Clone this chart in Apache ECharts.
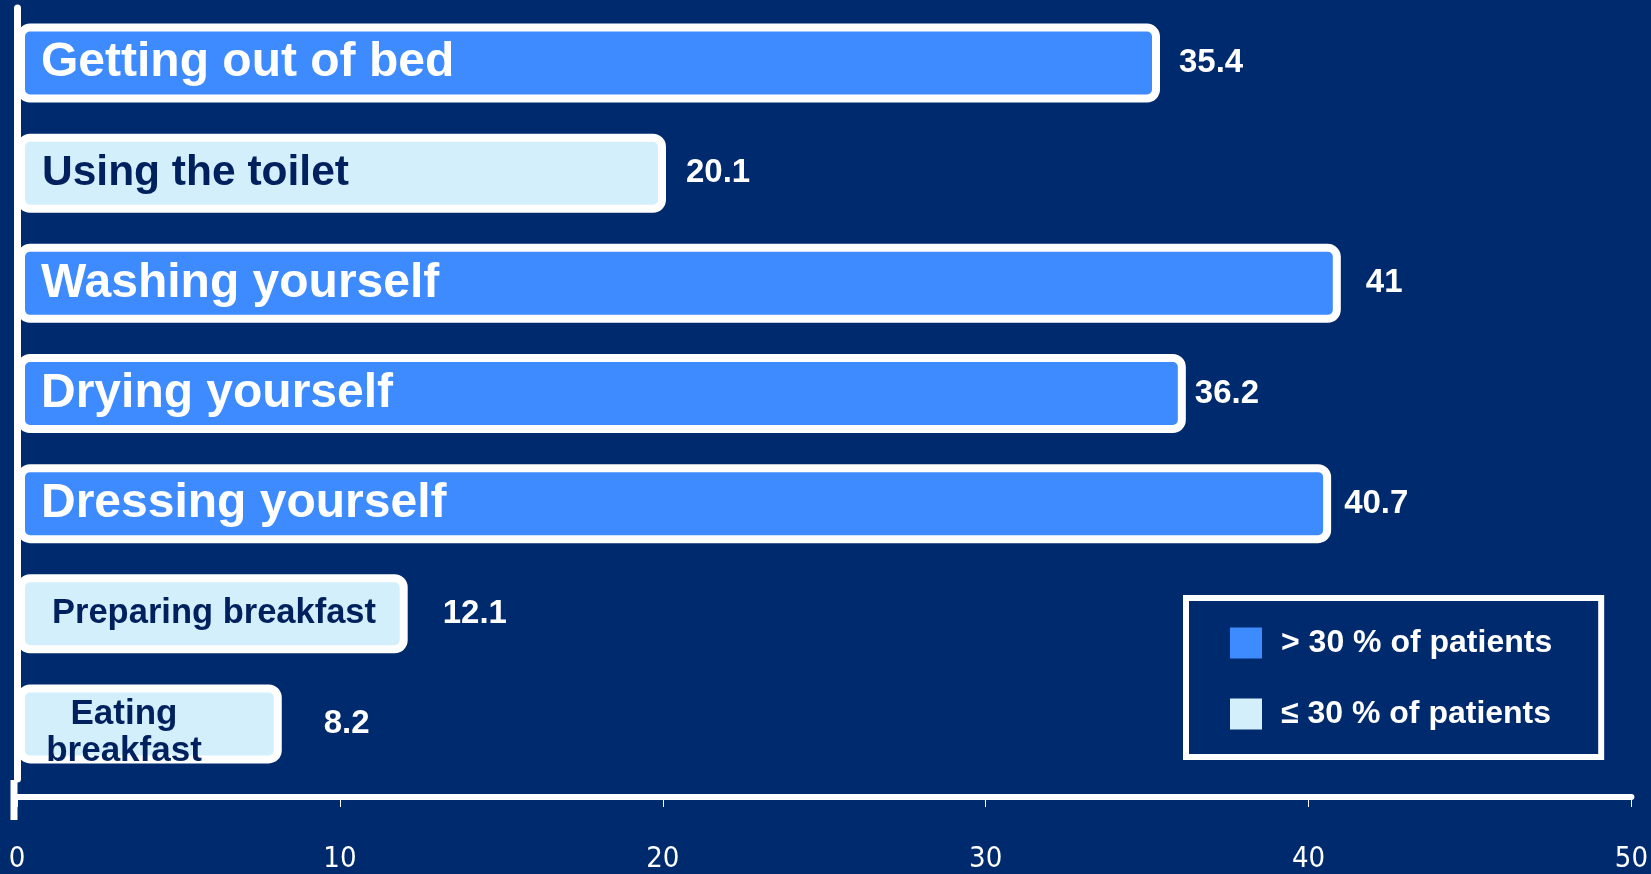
<!DOCTYPE html>
<html>
<head>
<meta charset="utf-8">
<title>Daily activities</title>
<style>
  html, body { margin: 0; padding: 0; background: #002A6E; }
  #chart { width: 1651px; height: 874px; }
</style>
<script src="https://cdn.jsdelivr.net/npm/echarts@6/dist/echarts.min.js"></script>
</head>
<body>
<div id="chart"></div>
<script>
// ---- data ----
const categories = [
  'Getting out of bed',
  'Using the toilet',
  'Washing yourself',
  'Drying yourself',
  'Dressing yourself',
  'Preparing breakfast',
  'Eating breakfast'
];
const values = [35.4, 20.1, 41, 36.2, 40.7, 12.1, 8.2];
const threshold = 30;
const seriesNames = ['> 30 % of patients', '≤ 30 % of patients'];
const axisMin = 0;
const axisMax = 50;
const axisStep = 10;

// ---- styling ----
const BG = '#002A6E';
const BLUE = '#3D8BFF';
const LIGHT = '#D4EFFC';
const DARK = '#00215E';
const FONT = "'Liberation Sans', Arial, sans-serif";
const NARROW = "'Liberation Sans Narrow', 'DejaVu Sans Condensed', sans-serif";

// per-row label look (name inside the bar) and gap of the value label
const nameStyle = ['big', 'mid', 'big', 'big', 'big', 'small', 'wrap'];
const valueGap = [19, 20, 25, 9, 13, 35, 42];

const GRID = { left: 17, right: 10, top: 8, bottom: 92 };
const Y_SHIFT = 3;               // vertical axis line sits just left of the bars
const AXIS_X = GRID.left - Y_SHIFT;

function seriesData(test) {
  return values.map((v, i) => test(v)
    ? { value: v, label: { distance: valueGap[i] } }
    : '-');
}

const barStyle = (color) => ({
  color: color,
  borderColor: '#FFFFFF',
  borderWidth: 8,
  borderRadius: 9
});

const valueLabel = {
  show: true,
  position: 'right',
  formatter: '{c}',
  color: '#FFFFFF',
  fontFamily: FONT,
  fontWeight: 'bold',
  fontSize: 33
};

const chart = echarts.init(document.getElementById('chart'));
chart.setOption({
  backgroundColor: BG,
  animation: false,
  grid: GRID,
  legend: {
    orient: 'vertical',
    left: 1186,
    top: 598,
    padding: [29, 49, 27, 44],
    itemWidth: 32,
    itemHeight: 31,
    itemGap: 39,
    icon: 'rect',
    borderColor: '#FFFFFF',
    borderWidth: 6,
    itemStyle: { borderWidth: 0 },
    textStyle: {
      color: '#FFFFFF',
      fontFamily: FONT,
      fontWeight: 'bold',
      fontSize: 32,
      lineHeight: 31,
      padding: [0, 0, 0, 14]
    },
    data: seriesNames
  },
  xAxis: {
    type: 'value',
    min: axisMin,
    max: axisMax,
    interval: axisStep,
    offset: 18,
    splitLine: { show: false },
    axisLine: { show: true, lineStyle: { color: '#FFFFFF', width: 6 } },
    axisTick: { show: true, length: 10, lineStyle: { color: '#FFFFFF', width: 1 } },
    axisLabel: {
      color: '#FFFFFF',
      fontFamily: NARROW,
      fontSize: 29,
      margin: 48
    }
  },
  yAxis: {
    type: 'category',
    data: categories,
    inverse: true,
    z: 10,
    offset: Y_SHIFT,
    axisLine: { show: true, lineStyle: { color: '#FFFFFF', width: 7 } },
    axisTick: { show: false },
    axisLabel: {
      inside: true,
      margin: 27,
      lineHeight: 43,
      formatter: (name, idx) => {
        const key = nameStyle[idx];
        if (key === 'wrap') {
          const words = name.split(' ');
          return '{wrapTop|' + words[0] + '}\n{wrap|' + words.slice(1).join(' ') + '}';
        }
        return '{' + key + '|' + name + '}';
      },
      rich: {
        big: { fontFamily: FONT, fontWeight: 'bold', fontSize: 48, color: '#FFFFFF' },
        mid: { fontFamily: FONT, fontWeight: 'bold', fontSize: 42.5, color: DARK, padding: [0, 0, 0, 1] },
        small: { fontFamily: FONT, fontWeight: 'bold', fontSize: 34.5, color: DARK, padding: [0, 0, 0, 11] },
        wrapTop: { fontFamily: FONT, fontWeight: 'bold', fontSize: 35, lineHeight: 43, color: DARK, width: 166, align: 'center', padding: [24, 0, 0, 0] },
        wrap: { fontFamily: FONT, fontWeight: 'bold', fontSize: 35, lineHeight: 43, color: DARK, width: 166, align: 'center', padding: [12, 0, 0, 0] }
      }
    }
  },
  graphic: [{
    // lower stub of the vertical axis, running past the baseline
    type: 'line',
    z: 10,
    shape: { x1: AXIS_X, y1: 874 - GRID.bottom - 2, x2: AXIS_X, y2: 820 },
    style: { stroke: '#FFFFFF', lineWidth: 7 }
  }],
  series: [
    {
      name: seriesNames[0],
      type: 'bar',
      barWidth: 79,
      barGap: '-100%',
      itemStyle: barStyle(BLUE),
      label: valueLabel,
      data: seriesData(v => v > threshold)
    },
    {
      name: seriesNames[1],
      type: 'bar',
      barWidth: 79,
      barGap: '-100%',
      itemStyle: barStyle(LIGHT),
      label: valueLabel,
      data: seriesData(v => v <= threshold)
    }
  ]
});
</script>
</body>
</html>
